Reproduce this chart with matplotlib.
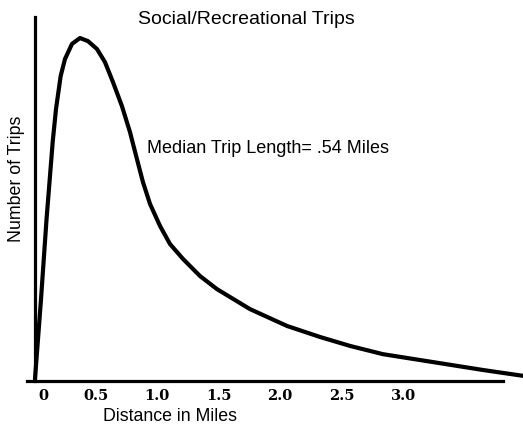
import matplotlib
matplotlib.use("Agg")
import matplotlib.pyplot as plt
from matplotlib.transforms import ScaledTranslation

# Data (distance in miles, relative number of trips)
distance = [0.008, 0.057, 0.102, 0.130, 0.152, 0.179, 0.217, 0.252, 0.309, 0.374,
            0.439, 0.512, 0.577, 0.642, 0.715, 0.780, 0.837, 0.886, 0.943, 1.024,
            1.106, 1.211, 1.350, 1.488, 1.756, 2.057, 2.325, 2.569, 2.837, 3.244,
            3.650, 3.976]
trips = [0.6, 23.8, 47.1, 59.6, 69.5, 79.1, 88.7, 93.6, 98.0, 99.7,
         98.8, 96.5, 92.7, 86.9, 79.9, 72.4, 64.5, 57.8, 51.5, 45.1,
         39.8, 35.5, 30.5, 26.7, 20.9, 16.0, 12.8, 10.2, 7.8, 5.5,
         3.2, 1.5]
tick_values = [0.0, 0.5, 1.0, 1.5, 2.0, 2.5, 3.0]
tick_labels = ["0", "0.5", "1.0", "1.5", "2.0", "2.5", "3.0"]
title = "Social/Recreational Trips"
annotation = "Median Trip Length= .54 Miles"

W, H = 523, 427
fig = plt.figure(figsize=(W / 100, H / 100), dpi=100)
fig.patch.set_facecolor("white")

x0_px, px_per_mile = 34.0, 123.0
y0_px, px_per_unit = 382.0, 3.44
xmin = -0.2
xmax = (W - x0_px) / px_per_mile
ymax = y0_px / px_per_unit
left = (x0_px + xmin * px_per_mile) / W
bottom = (H - y0_px) / H
ax = fig.add_axes([left, bottom, 1 - left, 1 - bottom])
ax.set_xlim(xmin, xmax)
ax.set_ylim(0, ymax)
ax.set_facecolor("white")

ax.plot(distance, trips, color="black", lw=3.0, solid_capstyle="round",
        solid_joinstyle="round", clip_on=False)

for s in ["top", "right"]:
    ax.spines[s].set_visible(False)
ax.spines["left"].set_position(("data", 0.008))
ax.spines["left"].set_bounds(0, (y0_px - 18) / px_per_unit)
ax.spines["bottom"].set_bounds((27 - x0_px) / px_per_mile, (503 - x0_px) / px_per_mile)
for s in ["left", "bottom"]:
    ax.spines[s].set_linewidth(2.3)
    ax.spines[s].set_color("black")

ax.set_yticks([])
ax.set_xticks(tick_values)
ax.set_xticklabels(tick_labels, fontfamily="DejaVu Serif", fontweight="bold", fontsize=10.5)
ax.tick_params(axis="x", length=0, pad=5)
lbls = ax.get_xticklabels()
lbls[0].set_transform(lbls[0].get_transform() + ScaledTranslation(9 / 100, 0, fig.dpi_scale_trans))

sans = "Liberation Sans"
fig.text(246 / W, 1 - 19 / H, title, ha="center", va="center", fontfamily=sans, fontsize=14)
fig.text(147 / W, 1 - 149 / H, annotation, ha="left", va="center", fontfamily=sans, fontsize=13)
fig.text(170 / W, 1 - 417 / H, "Distance in Miles", ha="center", va="center", fontfamily=sans, fontsize=12.8)
fig.text(17 / W, 1 - 179 / H, "Number of Trips", ha="center", va="center", rotation=90,
         fontfamily=sans, fontsize=12.8)

fig.savefig("out.png", dpi=100, facecolor="white")
